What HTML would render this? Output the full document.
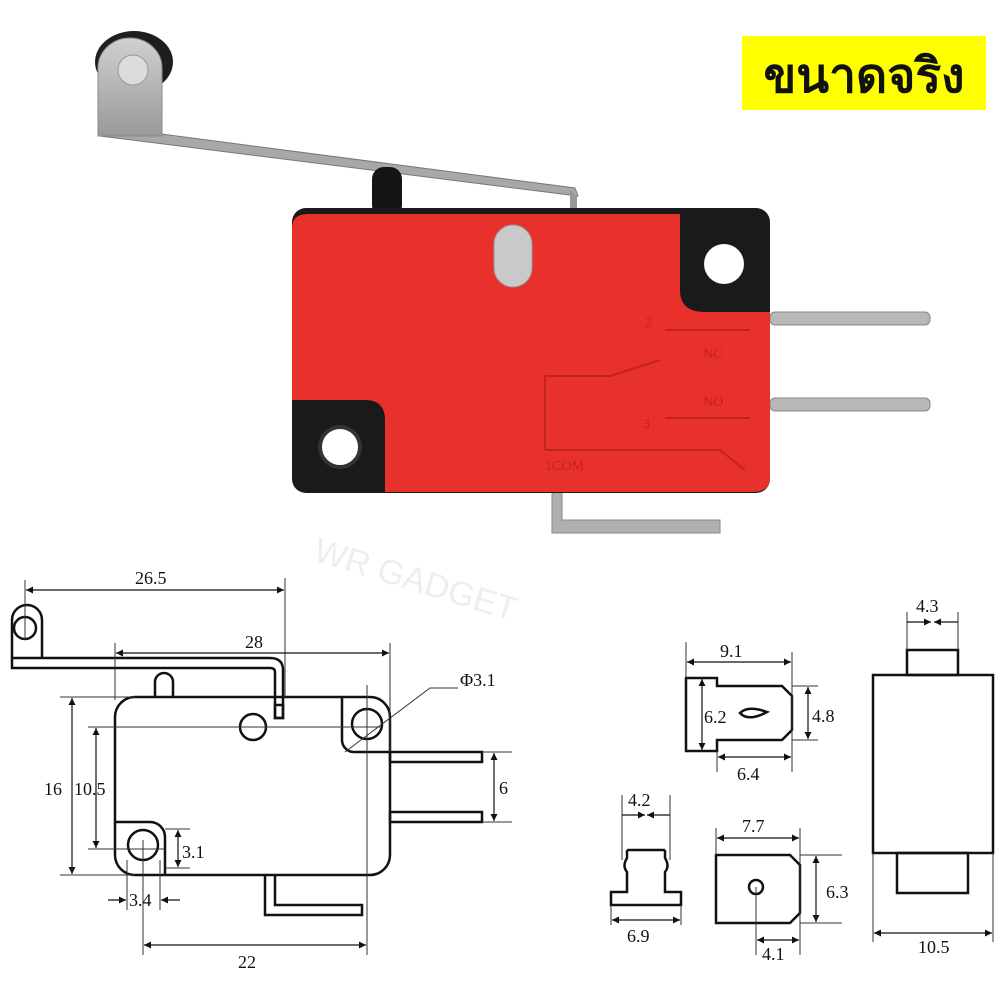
<!DOCTYPE html>
<html><head><meta charset="utf-8"><style>
html,body{margin:0;padding:0;background:#fff}
svg{display:block}
text{font-family:"Liberation Serif",serif;fill:#111}
</style></head><body>
<svg width="1000" height="1000" viewBox="0 0 1000 1000" xmlns="http://www.w3.org/2000/svg">
<defs>
<marker id="a" viewBox="0 0 10 10" refX="10" refY="5" markerWidth="16" markerHeight="7" orient="auto-start-reverse" markerUnits="userSpaceOnUse"><path d="M0,0L10,5L0,10z" fill="#111"/></marker>
<linearGradient id="g" x1="0" y1="0" x2="0" y2="1"><stop offset="0" stop-color="#d0d0d0"/><stop offset="1" stop-color="#9a9a9a"/></linearGradient>
</defs>
<!-- PHOTO -->
<polygon points="100,126 575,188 578,196 100,136" fill="#a8a8a8" stroke="#777"/>
<path d="M570,190 L577,196 L577,213 L570,213 Z" fill="#999"/>
<ellipse cx="134" cy="62" rx="39" ry="31" fill="#1e1e1e"/>
<path d="M98,136 L98,68 A32,30 0 0 1 162,68 L162,136 Z" fill="url(#g)" stroke="#8a8a8a"/>
<circle cx="133" cy="70" r="15" fill="#dcdcdc" stroke="#999"/>
<rect x="372" y="167" width="30" height="50" rx="12" fill="#151515"/>
<rect x="770" y="312" width="160" height="13" rx="5" fill="#b8b8b8" stroke="#888"/>
<rect x="770" y="398" width="160" height="13" rx="5" fill="#b8b8b8" stroke="#888"/>
<path d="M552,485 L562,485 L562,520 L720,520 L720,533 L552,533 Z" fill="#b0b0b0" stroke="#888"/>
<rect x="292" y="208" width="478" height="285" rx="14" fill="#1a1a1a"/>
<path d="M292,228 Q292,214 308,214 L680,214 L680,290 Q680,312 705,312 L770,312 L770,478 Q770,492 752,492 L385,492 L385,420 Q385,400 365,400 L292,400 Z" fill="#e8312a"/>
<circle cx="724" cy="264" r="20" fill="#fff"/>
<circle cx="340" cy="447" r="20" fill="#fff" stroke="#333" stroke-width="4"/>
<rect x="494" y="225" width="38" height="62" rx="19" fill="#c9c9c9" stroke="#999"/>
<g stroke="#c42418" stroke-width="2" fill="none"><path d="M665,330 L750,330"/><path d="M545,376 L610,376 L660,360"/><path d="M665,418 L750,418"/><path d="M545,450 L720,450 L745,470"/><path d="M545,376 L545,450"/></g>
<g font-family="Liberation Sans" font-size="14"><text x="645" y="327" style="fill:#c42418">2</text><text x="703" y="358" style="fill:#c42418">NC</text><text x="703" y="406" style="fill:#c42418">NO</text><text x="643" y="428" style="fill:#c42418">3</text><text x="545" y="470" style="fill:#c42418">1COM</text></g>
<rect x="742" y="36" width="244" height="74" fill="#ffff00"/>
<text x="864" y="92" text-anchor="middle" font-weight="bold" font-size="48" style="font-family:'Liberation Sans','Noto Sans CJK SC',sans-serif">ขนาดจริง</text>
<text x="312" y="560" transform="rotate(17 312 560)" font-size="34" style="fill:#eeeeee;font-family:'Liberation Sans',sans-serif">WR GADGET</text>
<!-- DRAWING -->
<g stroke="#111" stroke-width="2.5" fill="none">
<path d="M12,668 L12,658 L270,658 Q283,658 283,670 L283,718 L275,718 L275,672 Q275,668 270,668 Z"/>
<rect x="275" y="705" width="8" height="13"/>
<path d="M12,658 L12,620 A14,14 0 0 1 42,620 L42,658"/>
<circle cx="25" cy="628" r="11"/>
<path d="M155,697 L155,682 A9,9 0 0 1 173,682 L173,697"/>
<path d="M135,697 L370,697 A20,20 0 0 1 390,717 L390,855 A20,20 0 0 1 370,875 L135,875 A20,20 0 0 1 115,855 L115,717 A20,20 0 0 1 135,697 Z"/>
<path d="M342,697 L342,740 A12,12 0 0 0 354,752 L390,752"/>
<circle cx="367" cy="724" r="15"/>
<path d="M115,822 L150,822 A15,15 0 0 1 165,837 L165,875"/>
<circle cx="143" cy="845" r="15"/>
<circle cx="253" cy="727" r="13"/>
<rect x="390" y="752" width="92" height="10"/><rect x="390" y="812" width="92" height="10"/>
<path d="M265,875 L265,915 L362,915 L362,905 L275,905 L275,875"/>
</g>
<g stroke="#333" stroke-width="1" fill="none">
<line x1="25" y1="580" x2="25" y2="640"/><line x1="285" y1="578" x2="285" y2="697"/>
<line x1="115" y1="643" x2="115" y2="700"/><line x1="390" y1="643" x2="390" y2="752"/>
<line x1="60" y1="697" x2="135" y2="697"/><line x1="60" y1="875" x2="135" y2="875"/>
<line x1="88" y1="727" x2="380" y2="727"/><line x1="88" y1="849" x2="165" y2="849"/>
<line x1="165" y1="829" x2="190" y2="829"/><line x1="165" y1="868" x2="190" y2="868"/>
<line x1="127" y1="860" x2="127" y2="910"/><line x1="160" y1="860" x2="160" y2="910"/>
<line x1="143" y1="840" x2="143" y2="955"/><line x1="367" y1="685" x2="367" y2="955"/>
<line x1="482" y1="752" x2="512" y2="752"/><line x1="482" y1="822" x2="512" y2="822"/>
<path d="M345,752 L430,688 L458,688"/>
</g>
<g stroke="#111" stroke-width="1.2" fill="none" marker-start="url(#a)" marker-end="url(#a)">
<line x1="26" y1="590" x2="284" y2="590"/>
<line x1="116" y1="653" x2="389" y2="653"/>
<line x1="72" y1="698" x2="72" y2="874"/>
<line x1="96" y1="728" x2="96" y2="848"/>
<line x1="178" y1="830" x2="178" y2="867"/>
<line x1="494" y1="753" x2="494" y2="821"/>
<line x1="144" y1="945" x2="366" y2="945"/>
</g>
<g stroke="#111" stroke-width="1.2" marker-end="url(#a)"><line x1="108" y1="900" x2="126" y2="900"/><line x1="180" y1="900" x2="161" y2="900"/></g>
<g font-size="18">
<text x="135" y="584">26.5</text><text x="245" y="648">28</text>
<text x="460" y="686">Φ3.1</text>
<text x="44" y="795">16</text><text x="74" y="795">10.5</text>
<text x="182" y="858">3.1</text><text x="499" y="794">6</text>
<text x="129" y="906">3.4</text><text x="238" y="968">22</text>
</g>
<g stroke="#111" stroke-width="2.5" fill="none">
<path d="M686,678 L717,678 L717,686 L782,686 L792,696 L792,730 L782,740 L717,740 L717,751 L686,751 Z"/>
<path d="M740,713 Q748,705 767,712 Q748,722 740,713 Z"/>
<path d="M627,850 L665,850 M627,850 L627,858 Q622,866 627,872 L627,892 L611,892 L611,905 L681,905 L681,892 L665,892 L665,872 Q670,866 665,858 L665,850"/>
<path d="M716,855 L790,855 L800,865 L800,913 L790,923 L716,923 Z"/>
<circle cx="756" cy="887" r="7"/>
<rect x="873" y="675" width="120" height="178"/>
<rect x="907" y="650" width="51" height="25"/>
<rect x="897" y="853" width="71" height="40"/>
</g>
<g stroke="#333" stroke-width="1" fill="none">
<line x1="686" y1="642" x2="686" y2="678"/><line x1="792" y1="652" x2="792" y2="772"/>
<line x1="717" y1="751" x2="717" y2="772"/>
<line x1="792" y1="686" x2="818" y2="686"/><line x1="792" y1="740" x2="818" y2="740"/>
<line x1="622" y1="795" x2="622" y2="860"/><line x1="670" y1="795" x2="670" y2="860"/>
<line x1="611" y1="905" x2="611" y2="925"/><line x1="681" y1="905" x2="681" y2="925"/>
<line x1="716" y1="828" x2="716" y2="855"/><line x1="800" y1="828" x2="800" y2="955"/>
<line x1="800" y1="855" x2="842" y2="855"/><line x1="800" y1="923" x2="842" y2="923"/>
<line x1="756" y1="887" x2="756" y2="955"/>
<line x1="907" y1="612" x2="907" y2="650"/><line x1="958" y1="612" x2="958" y2="650"/>
<line x1="873" y1="853" x2="873" y2="942"/><line x1="993" y1="853" x2="993" y2="942"/>
</g>
<g stroke="#111" stroke-width="1.2" fill="none" marker-start="url(#a)" marker-end="url(#a)">
<line x1="687" y1="662" x2="791" y2="662"/>
<line x1="702" y1="679" x2="702" y2="750"/>
<line x1="808" y1="687" x2="808" y2="739"/>
<line x1="718" y1="757" x2="791" y2="757"/>
<line x1="612" y1="920" x2="680" y2="920"/>
<line x1="717" y1="838" x2="799" y2="838"/>
<line x1="816" y1="856" x2="816" y2="922"/>
<line x1="757" y1="940" x2="799" y2="940"/>
<line x1="874" y1="933" x2="992" y2="933"/>
</g>
<g stroke="#111" stroke-width="1.2" marker-end="url(#a)"><line x1="622" y1="815" x2="645" y2="815"/><line x1="670" y1="815" x2="647" y2="815"/><line x1="907" y1="622" x2="931" y2="622"/><line x1="958" y1="622" x2="934" y2="622"/></g>
<g font-size="18">
<text x="720" y="657">9.1</text><text x="704" y="723">6.2</text><text x="812" y="722">4.8</text>
<text x="737" y="780">6.4</text><text x="628" y="806">4.2</text><text x="627" y="942">6.9</text>
<text x="742" y="832">7.7</text><text x="826" y="898">6.3</text><text x="762" y="960">4.1</text>
<text x="916" y="612">4.3</text><text x="918" y="953">10.5</text>
</g>
</svg>
</body></html>
